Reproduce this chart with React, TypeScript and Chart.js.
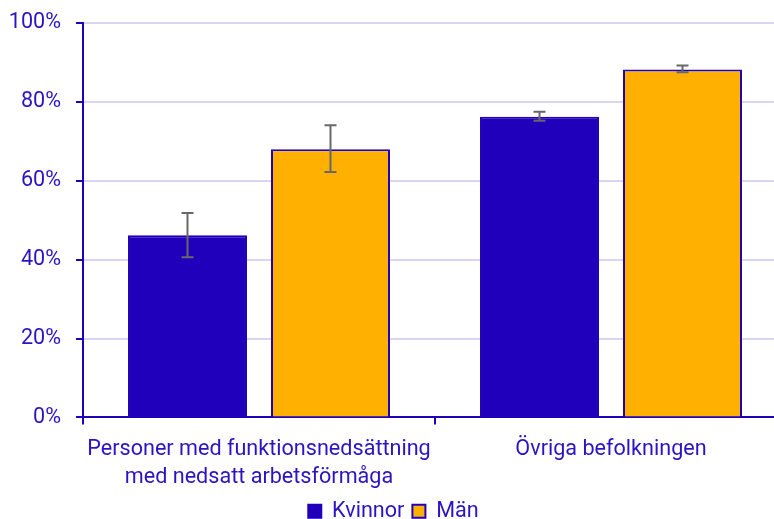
import React, { useEffect, useRef } from "react";
import { Chart, registerables } from "chart.js";

Chart.register(...registerables);

const categories: (string | string[])[] = [
  ["Personer med funktionsnedsättning", "med nedsatt arbetsförmåga"],
  "Övriga befolkningen",
];
const seriesNames = ["Kvinnor", "Män"];
const kvinnor = [46.2, 76.2];
const kvinnorLow = [40.6, 75.2];
const kvinnorHigh = [51.8, 77.5];
const man = [68.0, 88.2];
const manLow = [62.2, 87.5];
const manHigh = [74.1, 89.2];
const yTicks = [0, 20, 40, 60, 80, 100];

const BLUE = "#2000ba";
const TEXT = "#2a14c4";
const ORANGE = "#ffb000";
const GRID = "#d8d6f2";
const ERR = "#686868";

const errorBars = {
  id: "errorBars",
  afterDatasetsDraw(chart: any) {
    const ctx = chart.ctx;
    const y = chart.scales.y;
    const ranges = [
      [kvinnorLow, kvinnorHigh],
      [manLow, manHigh],
    ];
    ctx.save();
    ctx.strokeStyle = ERR;
    ctx.lineWidth = 2;
    chart.data.datasets.forEach((_: any, di: number) => {
      const meta = chart.getDatasetMeta(di);
      meta.data.forEach((bar: any, i: number) => {
        const x = bar.x;
        const yl = y.getPixelForValue(ranges[di][0][i]);
        const yh = y.getPixelForValue(ranges[di][1][i]);
        ctx.beginPath();
        ctx.moveTo(x, yl);
        ctx.lineTo(x, yh);
        ctx.moveTo(x - 6, yl);
        ctx.lineTo(x + 6, yl);
        ctx.moveTo(x - 6, yh);
        ctx.lineTo(x + 6, yh);
        ctx.stroke();
      });
    });
    ctx.restore();
  },
};

export default function App() {
  const ref = useRef<HTMLCanvasElement>(null);
  useEffect(() => {
    if (!ref.current) return;
    const font = { family: "Roboto", size: 21.6 };
    const chart = new Chart(ref.current, {
      type: "bar",
      data: {
        labels: categories,
        datasets: [
          {
            label: seriesNames[0],
            data: kvinnor,
            backgroundColor: BLUE,
            borderColor: BLUE,
            borderWidth: 2,
            categoryPercentage: 0.8125,
            barPercentage: 0.832,
          },
          {
            label: seriesNames[1],
            data: man,
            backgroundColor: ORANGE,
            borderColor: BLUE,
            borderWidth: 2,
            categoryPercentage: 0.8125,
            barPercentage: 0.832,
          },
        ],
      },
      options: {
        animation: false,
        responsive: false,
        maintainAspectRatio: false,
        layout: { padding: { top: 23, right: 13, left: 0, bottom: 0 } },
        plugins: {
          tooltip: { enabled: false },
          legend: {
            position: "bottom",
            labels: {
              font,
              color: TEXT,
              boxWidth: 13,
              boxHeight: 13,
              padding: 8,
            },
          },
        },
        scales: {
          x: {
            grid: {
              display: true,
              drawOnChartArea: false,
              drawTicks: true,
              tickColor: BLUE,
              tickLength: 7,
              lineWidth: 2,
              offset: true,
            },
            border: { color: BLUE, width: 2 },
            ticks: { font: { ...font, lineHeight: 1.3 }, color: TEXT, padding: 11, maxRotation: 0 },
            afterFit: (s: any) => {
              s.height = 75;
              s._computeLabelArea = () => undefined;
            },
          },
          y: {
            min: 0,
            max: 100,
            afterBuildTicks: (s: any) => {
              s.ticks = yTicks.map((v) => ({ value: v }));
            },
            grid: {
              color: GRID,
              lineWidth: 2,
              tickColor: BLUE,
              tickLength: 7,
            },
            border: { color: BLUE, width: 2 },
            ticks: {
              font,
              color: TEXT,
              padding: 15,
              callback: (v: any) => v + "%",
            },
            afterFit: (s: any) => {
              s.width = 83;
              s.paddingTop = 0;
              s.paddingBottom = 0;
            },
          },
        },
      },
      plugins: [errorBars],
    });
    return () => chart.destroy();
  }, []);
  return (
    <div
      style={{
        position: "fixed",
        left: 0,
        top: 0,
        width: 774,
        height: 519,
        overflow: "hidden",
        background: "#fff",
      }}
    >
      <canvas ref={ref} width={800} height={532} style={{ display: "block" }} />
    </div>
  );
}
